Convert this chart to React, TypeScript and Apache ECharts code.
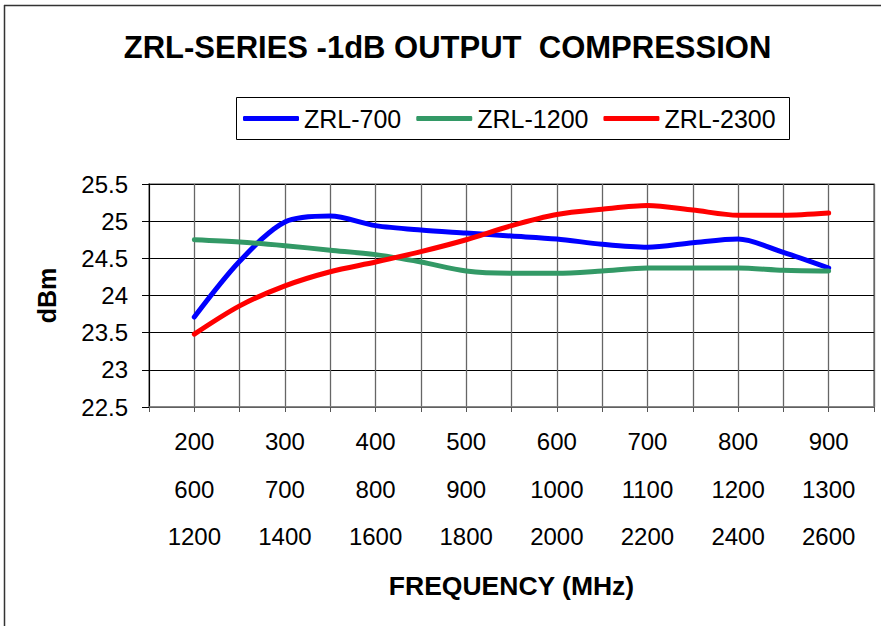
import React, { useEffect, useRef } from "react";
import * as echarts from "echarts";

// Frequency positions (ZRL-700 scale, MHz) where points are sampled
const xFreq = [200, 250, 300, 350, 400, 450, 500, 550, 600, 650, 700, 750, 800, 850, 900];

// Series values (dBm)
const zrl700 = [23.71, 24.46, 24.99, 25.07, 24.94, 24.88, 24.84, 24.8, 24.76, 24.69, 24.65, 24.71, 24.76, 24.58, 24.37];
const zrl1200 = [24.75, 24.72, 24.67, 24.61, 24.55, 24.45, 24.33, 24.3, 24.3, 24.33, 24.37, 24.37, 24.37, 24.34, 24.33];
const zrl2300 = [23.48, 23.86, 24.13, 24.32, 24.45, 24.59, 24.75, 24.94, 25.09, 25.16, 25.21, 25.15, 25.08, 25.08, 25.11];

// Tick label rows
const labels700 = [200, 300, 400, 500, 600, 700, 800, 900];
const labels1200 = [600, 700, 800, 900, 1000, 1100, 1200, 1300];
const labels2300 = [1200, 1400, 1600, 1800, 2000, 2200, 2400, 2600];

const seriesNames = ["ZRL-700", "ZRL-1200", "ZRL-2300"];
const seriesColors = ["#0000FF", "#339966", "#FF0000"];

const FONT = "'Liberation Sans', Arial, sans-serif";

export default function App() {
  const ref = useRef<HTMLDivElement>(null);
  useEffect(() => {
    if (!ref.current) return;
    const chart = echarts.init(ref.current, null, { renderer: "svg" });
    const allData = [zrl700, zrl1200, zrl2300];
    chart.setOption({
      animation: false,
      backgroundColor: "#ffffff",
      textStyle: { fontFamily: FONT },
      graphic: [
        { type: "line", shape: { x1: 4, y1: 5.5, x2: 881, y2: 5.5 }, style: { stroke: "#333", lineWidth: 1.5 } },
        { type: "line", shape: { x1: 4.5, y1: 5, x2: 4.5, y2: 626 }, style: { stroke: "#333", lineWidth: 1.5 } },
        {
          type: "text",
          x: 447.5,
          y: 47,
          style: {
            text: "ZRL-SERIES -1dB OUTPUT  COMPRESSION",
            fontFamily: FONT,
            fontWeight: "bold",
            fontSize: 31,
            fill: "#000",
            align: "center",
            verticalAlign: "middle",
          },
        },
        {
          type: "rect",
          shape: { x: 236.5, y: 97.5, width: 553, height: 42 },
          style: { fill: "none", stroke: "#000", lineWidth: 1 },
          z: 1,
        },
      ],
      legend: {
        left: 243,
        top: 106,
        padding: 0,
        itemGap: 15,
        itemWidth: 56,
        itemHeight: 5,
        icon: "roundRect",
        textStyle: { fontFamily: FONT, fontSize: 25, color: "#000" },
        data: seriesNames,
      },
      grid: {
        left: 149,
        top: 184,
        right: 7,
        bottom: 219,
        show: true,
        borderColor: "#808080",
        borderWidth: 1.5,
        containLabel: false,
      },
      xAxis: {
        type: "value",
        min: 150,
        max: 950,
        interval: 50,
        axisLine: { show: true, lineStyle: { color: "#808080", width: 1.5 } },
        axisTick: { show: true, length: 5, lineStyle: { color: "#555" } },
        splitLine: { show: true, lineStyle: { color: "#666", width: 1.3 } },
        axisLabel: {
          show: true,
          margin: 11,
          fontSize: 24,
          lineHeight: 47.5,
          color: "#000",
          fontFamily: FONT,
          formatter: (v: number) => {
            const i = labels700.indexOf(v);
            if (i < 0) return "";
            return `${labels700[i]}\n${labels1200[i]}\n${labels2300[i]}`;
          },
        },
        name: "FREQUENCY (MHz)",
        nameLocation: "middle",
        nameGap: 165,
        nameTextStyle: { fontFamily: FONT, fontWeight: "bold", fontSize: 26.5, color: "#000" },
      },
      yAxis: {
        type: "value",
        min: 22.5,
        max: 25.5,
        interval: 0.5,
        axisLine: { show: true, lineStyle: { color: "#000", width: 1 } },
        axisTick: { show: true, length: 7, lineStyle: { color: "#000" } },
        splitLine: { show: true, lineStyle: { color: "#000", width: 1 } },
        axisLabel: { margin: 21, fontSize: 24, color: "#000", fontFamily: FONT },
        name: "dBm",
        nameLocation: "middle",
        nameGap: 90,
        nameTextStyle: { fontFamily: FONT, fontWeight: "bold", fontSize: 25, color: "#000" },
      },
      series: seriesNames.map((name, si) => ({
        name,
        type: "line",
        smooth: 0.3,
        symbol: "none",
        showSymbol: false,
        color: seriesColors[si],
        lineStyle: { color: seriesColors[si], width: 5, cap: "round", join: "round" },
        data: xFreq.map((f, i) => [f, allData[si][i]]),
        z: 3,
      })),
    });
    return () => chart.dispose();
  }, []);
  return (
    <div
      ref={ref}
      style={{ position: "fixed", left: 0, top: 0, width: 881, height: 626, background: "#fff" }}
    />
  );
}
